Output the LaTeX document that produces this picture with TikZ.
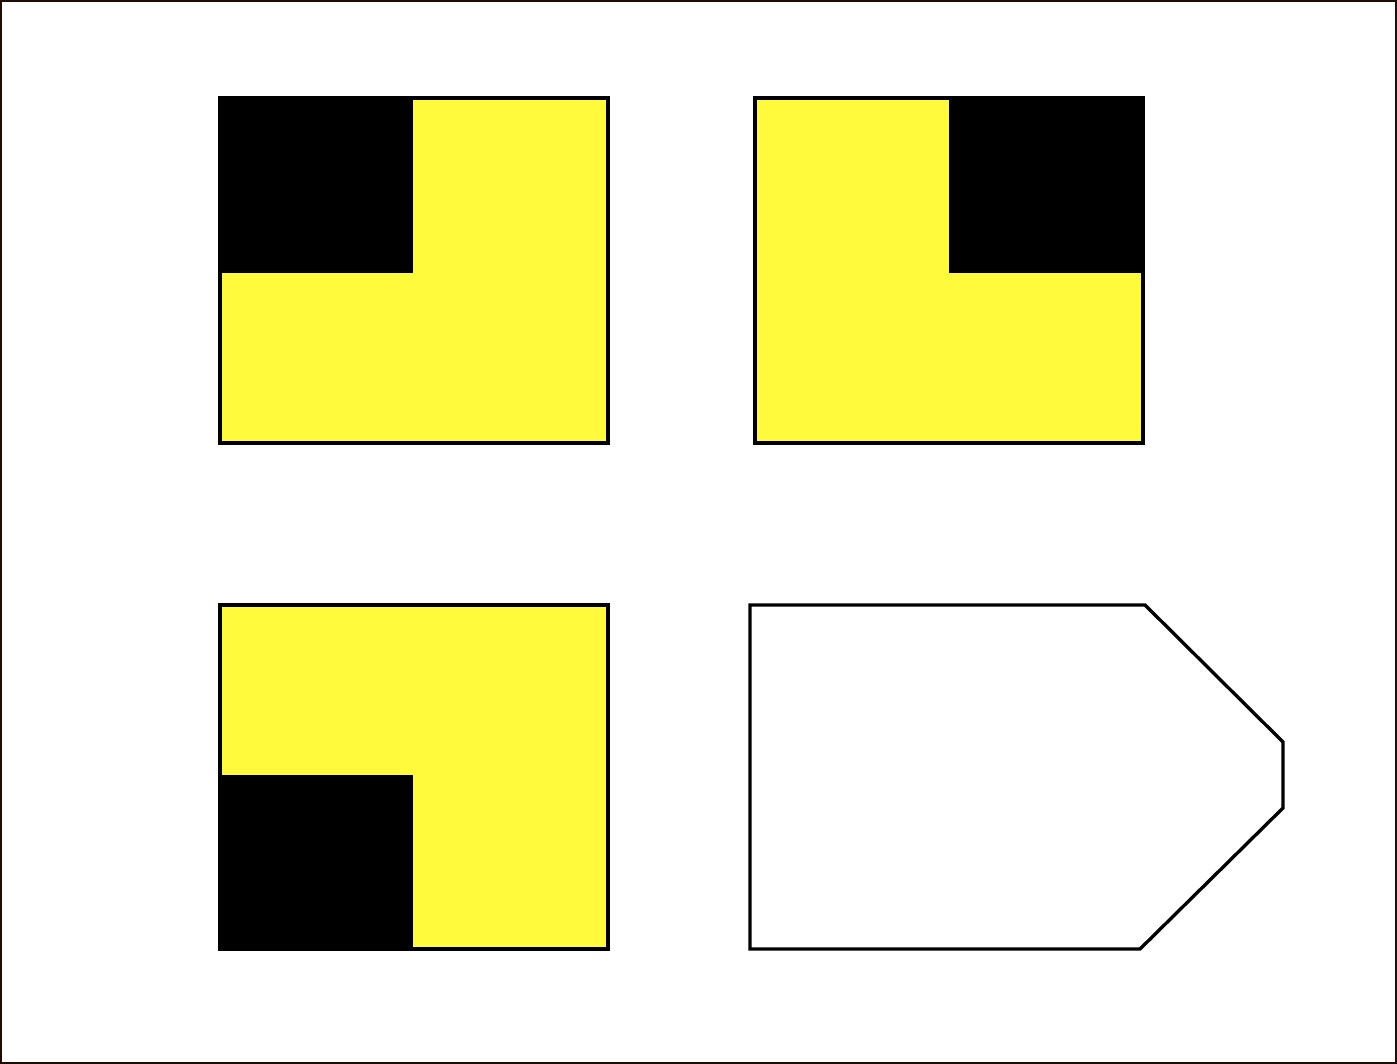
\documentclass[tikz,border=0pt]{standalone}
\definecolor{tileyellow}{RGB}{255,251,60}
\definecolor{framebrown}{RGB}{30,12,5}
\begin{document}
\begin{tikzpicture}[x=0.02cm, y=-0.02cm, tile/.style={draw=black, line width=2.2pt, fill=tileyellow}, corner/.style={fill=black}, outline/.style={draw=black, line width=1.9pt, line join=miter}]

\useasboundingbox (0,0) rectangle (1397,1064);
\draw[framebrown, line width=1.2pt] (1,1) rectangle (1396,1063);

% top left
\draw[tile] (220,98) rectangle (608,443);
\fill[corner] (219,97) rectangle (413,273);

% top right
\draw[tile] (755,98) rectangle (1143,443);
\fill[corner] (949,97) rectangle (1144,273);

% bottom left
\draw[tile] (220,605) rectangle (608,949);
\fill[corner] (219,775) rectangle (413,951);

% bottom right
\draw[outline] (750,605) -- (1145,605) -- (1283,742) -- (1283,808) -- (1140,949) -- (750,949) -- cycle;
\end{tikzpicture}
\end{document}
